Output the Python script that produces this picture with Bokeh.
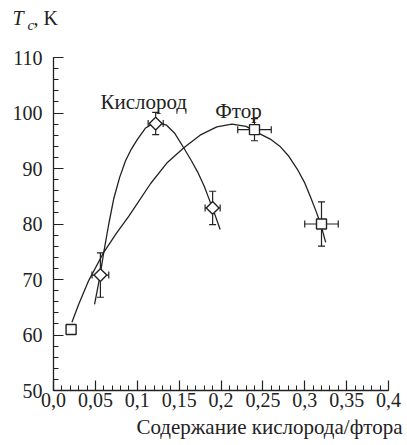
from bokeh.plotting import figure
from bokeh.models import (ColumnDataSource, Range1d, FixedTicker, Whisker, TeeHead,
                          Label, Title, CustomJSTickFormatter)
from bokeh.embed import file_html
from bokeh.resources import INLINE
import math

# ---- data ----
oxy_x = [0.056, 0.122, 0.190]
oxy_y = [70.8, 98.1, 82.9]
oxy_xerr = [0.010, 0.009, 0.009]
oxy_yerr = [4.0, 2.0, 3.0]

fl_x = [0.021, 0.240, 0.320]
fl_y = [61.0, 97.0, 80.0]
fl_xerr = [0.0, 0.020, 0.020]
fl_yerr = [0.0, 2.0, 4.0]

oxy_curve_x = [0.049, 0.055, 0.060, 0.066, 0.072, 0.079, 0.086, 0.093, 0.100, 0.110,
               0.122, 0.135, 0.145, 0.156, 0.165, 0.172, 0.180, 0.185, 0.192, 0.199]
oxy_curve_y = [65.5, 70.2, 74.9, 80.0, 84.6, 88.4, 91.4, 93.5, 95.2, 97.3,
               98.4, 97.8, 96.3, 93.6, 91.3, 89.4, 86.8, 84.8, 82.0, 79.0]

fl_curve_x = [0.022, 0.030, 0.042, 0.060, 0.075, 0.090, 0.116, 0.136, 0.156, 0.175,
              0.195, 0.213, 0.230, 0.247, 0.260, 0.271, 0.281, 0.291, 0.300, 0.307,
              0.313, 0.319, 0.325]
fl_curve_y = [62.3, 65.5, 69.8, 74.9, 78.3, 81.4, 87.3, 91.1, 93.8, 96.0,
              97.5, 98.0, 97.6, 96.2, 95.2, 93.9, 92.2, 89.9, 87.4, 84.8,
              82.5, 80.0, 76.7]

x_major = [0.0, 0.05, 0.1, 0.15, 0.2, 0.25, 0.3, 0.35, 0.4]
x_minor = [i / 100 for i in range(0, 41)]
y_major = [50, 60, 70, 80, 90, 100, 110]
y_minor = list(range(50, 111, 2))

label_oxy = "Кислород"
label_fl = "Фтор"
x_title = "Содержание кислорода/фтора"
y_title_main = "T"
y_title_sub = "c"
y_title_unit = ", K"

FONT = "Liberation Serif"
INK = "#222222"

p = figure(frame_width=335, frame_height=333, output_backend="svg", toolbar_location=None,
           title_location=None,
           x_range=Range1d(0, 0.4), y_range=Range1d(50, 110),
           min_border_left=53, min_border_right=17, min_border_top=57, min_border_bottom=0)
p.outline_line_color = None
p.grid.visible = False
p.background_fill_color = "white"
p.border_fill_color = "white"

for ax in (p.xaxis[0], p.yaxis[0]):
    ax.major_tick_in = 10
    ax.major_tick_out = 0
    ax.minor_tick_in = 5
    ax.minor_tick_out = 0
    ax.axis_line_color = INK
    ax.major_tick_line_color = INK
    ax.minor_tick_line_color = INK
    ax.axis_line_width = 1.3
    ax.major_tick_line_width = 1.2
    ax.minor_tick_line_width = 1.0
    ax.major_label_text_font = FONT
    ax.major_label_text_font_size = "20px"
    ax.major_label_text_color = INK

p.xaxis[0].ticker = FixedTicker(ticks=x_major, minor_ticks=x_minor)
p.yaxis[0].ticker = FixedTicker(ticks=y_major, minor_ticks=y_minor)
p.xaxis[0].major_label_standoff = 2
p.yaxis[0].major_label_standoff = 11
p.xaxis[0].formatter = CustomJSTickFormatter(code="""
let s = (Math.round(tick*100)/100).toString();
if (s === "0") { s = "0.0"; }
return s.replace(".", ",");
""")

# x-axis title, right aligned below the axis
p.add_layout(Title(text=x_title, align="right", offset=-14, text_font=FONT,
                   text_font_size="21px", text_font_style="normal",
                   vertical_align="bottom", text_color=INK, standoff=7), "below")

# y-axis title above the axis: rows collapsed onto one line
def above_title(text, offset, standoff, size="20px", style="normal"):
    p.add_layout(Title(text=text, align="left", offset=offset, text_font=FONT,
                       text_font_size=size, text_font_style=style,
                       vertical_align="bottom", text_color=INK,
                       standoff=standoff), "above")

above_title(" ", 0, 2)                                   # spacer next to the frame
above_title(y_title_sub, -26, -3, size="15px", style="italic")
above_title(y_title_unit, -20, -24)
above_title(y_title_main, -41, -24, style="italic")

# error bars
def add_errors(xs, ys, xe, ye):
    idx = [i for i in range(len(xs)) if ye[i] > 0]
    src = ColumnDataSource(dict(
        x=[xs[i] for i in idx], y=[ys[i] for i in idx],
        yl=[ys[i] - ye[i] for i in idx], yu=[ys[i] + ye[i] for i in idx],
        xl=[xs[i] - xe[i] for i in idx], xu=[xs[i] + xe[i] for i in idx]))
    for dim, base, lo, up in (("height", "x", "yl", "yu"), ("width", "y", "xl", "xu")):
        w = Whisker(source=src, base=base, lower=lo, upper=up, dimension=dim,
                    line_color=INK, line_width=1.2, level="underlay",
                    upper_head=TeeHead(size=7, line_width=1.2, line_color=INK),
                    lower_head=TeeHead(size=7, line_width=1.2, line_color=INK))
        p.add_layout(w)

add_errors(oxy_x, oxy_y, oxy_xerr, oxy_yerr)
add_errors(fl_x, fl_y, fl_xerr, fl_yerr)

# fitted curves
p.line(oxy_curve_x, oxy_curve_y, line_color=INK, line_width=1.3)
p.line(fl_curve_x, fl_curve_y, line_color=INK, line_width=1.3)

# markers
p.scatter(oxy_x, oxy_y, marker="square", size=9, angle=math.pi / 4,
          fill_color="white", line_color=INK, line_width=1.4)
p.scatter(fl_x, fl_y, marker="square", size=10,
          fill_color="white", line_color=INK, line_width=1.4)

# series labels
for x, y, t in ((0.056, 101.9, label_oxy), (0.193, 100.45, label_fl)):
    p.add_layout(Label(x=x, y=y, text=t, text_font=FONT, text_font_size="21px",
                       text_color=INK, text_align="left", text_baseline="alphabetic"))

open("out.html", "w").write(file_html(p, INLINE))
